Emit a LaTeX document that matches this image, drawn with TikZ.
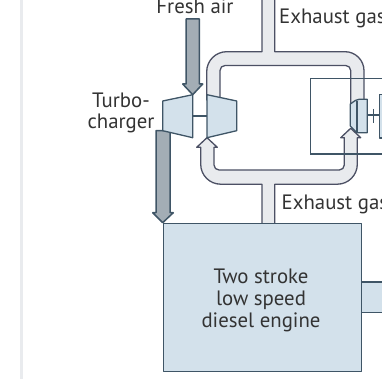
\documentclass[tikz,border=0pt]{standalone}
\usepackage{fontspec}
\setmainfont{PT Sans}
\definecolor{linecol}{HTML}{3F5566}
\definecolor{pipeline}{HTML}{4C5064}
\definecolor{pipefill}{HTML}{E9EBEE}
\definecolor{partfill}{HTML}{D3E1EB}
\definecolor{airfill}{HTML}{A3ADB5}
\definecolor{textcol}{HTML}{333333}
\usetikzlibrary{positioning}

\begin{document}
\begin{tikzpicture}[x=1pt, y=-1pt,
    every node/.style={text=textcol, font=\fontsize{20.8}{22}\selectfont, inner sep=0pt},
    pipe/.style={draw=pipeline, fill=pipefill, line width=1.3pt, line join=round},
    part/.style={draw=linecol, fill=partfill, line width=1.3pt, line join=round},
    air/.style={draw=linecol, fill=airfill, line width=1.5pt, line join=round},
    thinline/.style={draw=linecol, line width=1.2pt},
    ]
  \useasboundingbox (0,0) rectangle (382,379);
  \clip (0,0) rectangle (382,379);
  \fill[pipefill] (20,0) rectangle (23,379);

  % upper exhaust pipe
  \path[pipe] (262,-3) -- (262,51.7) [rounded corners=20pt] -- (206.7,51.7) [sharp corners] -- (206.7,100) -- (220,100)
    [rounded corners=5pt] -- (220,65.5) -- (350.7,65.5) [sharp corners] -- (350.7,106) -- (364,106)
    [rounded corners=19pt] -- (364,51.7) [sharp corners] -- (274.7,51.7) -- (274.7,-3);

  % lower exhaust pipe
  \path[pipe] (207,137.7) -- (217.3,147.3) -- (214,147.3) [rounded corners=5pt] -- (214,170) -- (344.3,170)
    [sharp corners] -- (344.3,137.7) -- (340.7,137.7) -- (350.7,128.3) -- (360.7,137.7) -- (357.3,137.7)
    [rounded corners=20pt] -- (357.3,184.2) [sharp corners] -- (274.7,184.2) -- (274.7,226) -- (262,226) -- (262,184.2)
    [rounded corners=20pt] -- (200.7,184.2) [sharp corners] -- (200.7,147.3) -- (196.7,147.3) -- cycle;

  % charge air
  \path[air] (186,19) -- (199.3,19) -- (199.3,84) -- (202.7,84) -- (192.7,94.7) -- (182.7,84) -- (186,84) -- cycle;
  \path[air] (156,130.7) -- (170,130.7) -- (170,212.7) -- (173.3,212.7) -- (162.7,222.7) -- (152.7,212.7) -- (156,212.7) -- cycle;

  % turbocharger
  \path[part] (162.7,101) -- (192.7,94.7) -- (192.7,137.7) -- (162.7,130.7) -- cycle;
  \path[part] (207,94.7) -- (236.7,101) -- (236.7,130.7) -- (207,137.7) -- cycle;
  \draw[thinline] (192.7,116) -- (207,116);

  % second turbo unit
  \path[part] (350.3,104) [rounded corners=2pt] -- (357,99.3) [sharp corners] -- (367.3,99.3) -- (367.3,132.7) -- (357,132.7) -- (350.3,126) -- cycle;
  \draw[thinline] (357,101) -- (357,132.7);
  \path[part] (379.5,94.7) -- (386,94.7) -- (386,138) -- (379.5,138) -- cycle;
  \draw[thinline] (367.3,115) -- (379.5,115);
  \draw[thinline] (373.3,109) -- (373.3,123);
  \draw[thinline] (386,78.3) -- (310.7,78.3) -- (310.7,154) -- (386,154);

  % engine
  \path[part] (361,282) -- (386,282) -- (386,312.3) -- (361,312.3) -- cycle;
  \node[part, minimum width=198.3pt, minimum height=148.3pt, anchor=north west] (engine) at (162.7,222.7) {};
  \node[anchor=base] (engine1) at (261,283) {Two stroke};
  \node[anchor=base] (engine2) at (261,305) {low speed};
  \node[anchor=base] (engine3) at (261,327) {diesel engine};

  \node[anchor=base] (freshair) at (195,14) {Fresh air};
  \node[anchor=base] (turbo1) at (121,108) {Turbo-};
  \node[anchor=base] (turbo2) at (121,129) {charger};
  \node[anchor=base west] (exhaust1) at (279,24) {Exhaust gas};
  \node[anchor=base west] (exhaust2) at (281.5,209) {Exhaust gas};
\end{tikzpicture}
\end{document}
